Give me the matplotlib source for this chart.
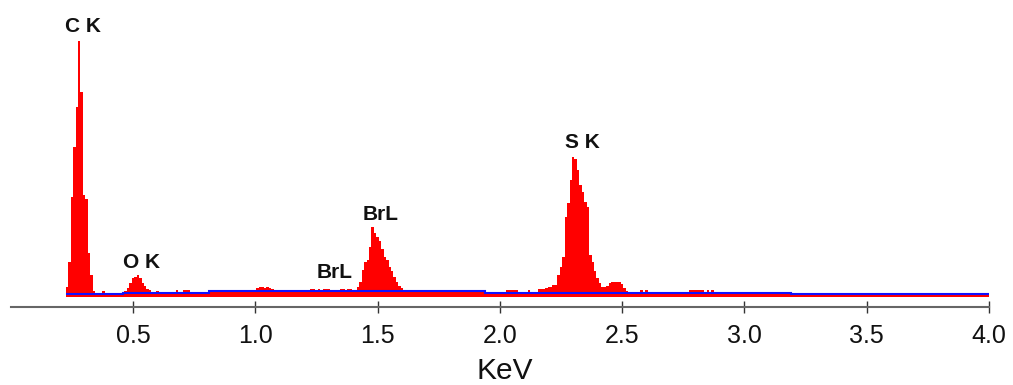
import numpy as np
import matplotlib
matplotlib.use("Agg")
import matplotlib.pyplot as plt

plt.rcParams['font.family'] = ['Liberation Sans', 'DejaVu Sans']

# background (blue) and red continuum levels, piecewise over energy
bg_edges = [0.225, 0.46, 0.81, 1.94, 3.19, 4.005]
bg_blue = [3.0, 4.3, 6.0, 4.3, 2.7]
red_floor = [3.0, 4.0, 5.0, 4.0, 2.5]

# peak channels (10 eV channels), first channel centre + counts
ck_start, ck_counts = 0.23, [10, 35, 100, 150, 190, 256, 205, 102, 98, 44, 22, 6]
ok_start, ok_counts = 0.47, [6, 9, 14, 19, 20, 22, 19, 14, 11, 8, 7, 5, 4, 6]
brl_start, brl_counts = 1.41, [6, 10, 15, 27, 35, 37, 50, 70, 64, 60, 56, 48, 40,
                               37, 30, 26, 20, 15, 11, 9, 7]
sk_start, sk_counts = 2.19, [9, 10, 10, 12, 12, 22, 30, 40, 80, 94, 117, 140, 138,
                             127, 112, 105, 95, 90, 42, 35, 26, 19, 14, 10, 10, 11,
                             14, 15, 15, 15, 15, 13, 9, 6]

# isolated small channels above the continuum
spike_e = [0.38, 0.68, 0.71, 0.72, 0.73, 0.88, 1.01, 1.02, 1.03, 1.04, 1.05, 1.06,
           1.07, 1.10, 1.18, 1.23, 1.24, 1.26, 1.28, 1.29, 1.30, 1.32, 1.35, 1.36,
           1.38, 1.39, 1.72, 1.84, 1.90, 2.03, 2.04, 2.05, 2.06, 2.07, 2.12, 2.16,
           2.17, 2.18, 2.58, 2.60, 2.78, 2.79, 2.80, 2.81, 2.82, 2.83, 2.85, 2.87]
spike_v = [6, 7, 7, 7, 7, 7, 9, 10, 10, 9, 10, 9,
           8, 7, 7, 8, 8, 8, 8, 8, 8, 7, 8, 8,
           8, 8, 7, 6, 6, 7, 7, 7, 7, 7, 7, 8,
           8, 8, 7, 7, 7, 7, 7, 7, 7, 7, 7, 7]

ticks = [0.5, 1.0, 1.5, 2.0, 2.5, 3.0, 3.5, 4.0]
tick_labels = ['0.5', '1.0', '1.5', '2.0', '2.5', '3.0', '3.5', '4.0']

peak_labels = ['C K', 'O K', 'BrL', 'BrL', 'S K']
label_x = [0.2935, 0.533, 1.514, 1.326, 2.336]
label_y = [265.3, 28.7, 77.0, 19.0, 148.7]

# build spectrum
centers = np.round(np.arange(0.23, 4.0001, 0.01), 2)
edges = np.append(centers - 0.005, centers[-1] + 0.005)
region = np.searchsorted(bg_edges, centers, side='right') - 1
counts = np.array(red_floor)[np.clip(region, 0, len(red_floor) - 1)].astype(float)

for start, vals in [(ck_start, ck_counts), (ok_start, ok_counts),
                    (brl_start, brl_counts), (sk_start, sk_counts)]:
    i0 = int(round((start - 0.23) / 0.01))
    counts[i0:i0 + len(vals)] = np.maximum(counts[i0:i0 + len(vals)], vals)
for e, v in zip(spike_e, spike_v):
    i = int(round((e - 0.23) / 0.01))
    counts[i] = max(counts[i], v)

fig = plt.figure(figsize=(10.13, 3.85), dpi=100)
ax = fig.add_axes([10.7 / 1013, 78 / 385, (989 - 10.7) / 1013, 307 / 385])

ax.stairs(counts, edges, fill=True, color='#ff0000', baseline=0, linewidth=0,
          antialiased=False)
ax.stairs(bg_blue, bg_edges, baseline=None, color='#1010ff', linewidth=1.5)

for txt, x, y in zip(peak_labels, label_x, label_y):
    ax.text(x, y, txt, ha='center', va='baseline', fontsize=15, fontweight='bold',
            color='#111111')

ax.set_xlim(0, 4.0)
ax.set_ylim(-10, 297)
for s in ['left', 'right', 'top']:
    ax.spines[s].set_visible(False)
ax.spines['bottom'].set_color('#666666')
ax.spines['bottom'].set_linewidth(1.5)
ax.set_yticks([])
ax.set_xticks(ticks)
ax.set_xticklabels(tick_labels)
ax.tick_params(axis='x', direction='inout', length=8, width=1, color='#333333',
               labelsize=18, pad=8.5, labelcolor='#111111')

fig.text(505 / 1013, 1 - 379 / 385, 'KeV', ha='center', va='baseline',
         fontsize=21.5, color='#111111')

fig.savefig('out.png', dpi=100)
